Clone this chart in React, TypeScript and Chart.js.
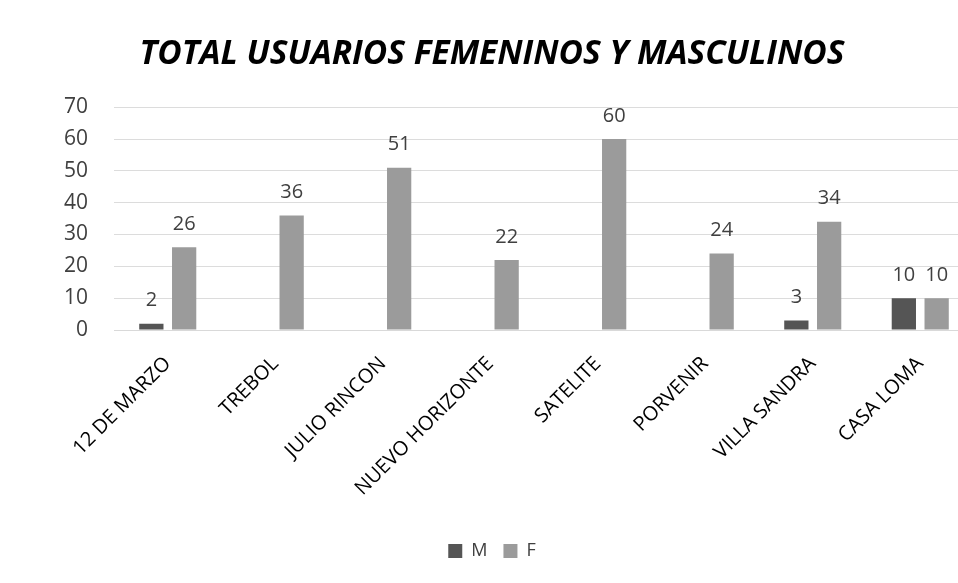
import React, { useEffect, useRef } from "react";
import { Chart, registerables } from "chart.js";

Chart.register(...registerables);

const categories = [
  "12 DE MARZO",
  "TREBOL",
  "JULIO RINCON",
  "NUEVO HORIZONTE",
  "SATELITE",
  "PORVENIR",
  "VILLA SANDRA",
  "CASA LOMA",
];
const valuesM: (number | null)[] = [2, null, null, null, null, null, 3, 10];
const valuesF: (number | null)[] = [26, 36, 51, 22, 60, 24, 34, 10];
const titleText = "TOTAL USUARIOS FEMENINOS Y MASCULINOS";

const FONT = "'Open Sans', 'Liberation Sans', sans-serif";

const labelPlugin = {
  id: "barLabels",
  afterDatasetsDraw(chart: any) {
    const ctx = chart.ctx;
    ctx.save();
    ctx.font = `20px ${FONT}`;
    ctx.fillStyle = "#404040";
    ctx.textAlign = "center";
    ctx.textBaseline = "middle";
    chart.data.datasets.forEach((ds: any, i: number) => {
      const meta = chart.getDatasetMeta(i);
      meta.data.forEach((el: any, j: number) => {
        const v = ds.data[j];
        if (v === null || v === undefined) return;
        ctx.fillText(String(v), el.x, el.y - 23);
      });
    });
    ctx.restore();
  },
};

export default function App() {
  const ref = useRef<HTMLCanvasElement | null>(null);
  useEffect(() => {
    document.body.style.overflow = "hidden";
    const chart = new Chart(ref.current!, {
      type: "bar",
      data: {
        labels: categories,
        datasets: [
          {
            label: "M",
            data: valuesM,
            backgroundColor: "#555555",
            barPercentage: 0.74,
            categoryPercentage: 0.61,
          },
          {
            label: "F",
            data: valuesF,
            backgroundColor: "#9b9b9b",
            barPercentage: 0.74,
            categoryPercentage: 0.61,
          },
        ],
      },
      options: {
        animation: false,
        responsive: false,
        maintainAspectRatio: false,
        layout: { padding: { left: 10, right: 2, top: 0, bottom: 13 } },
        plugins: {
          title: {
            display: true,
            text: titleText,
            color: "#000000",
            font: { family: FONT, size: 33.5, weight: "bold", style: "italic" },
            padding: { top: 34, bottom: 33 },
          },
          legend: {
            position: "bottom",
            labels: {
              color: "#404040",
              font: { family: FONT, size: 18 },
              boxWidth: 14,
              boxHeight: 14,
              padding: 16,
            },
          },
          tooltip: { enabled: false },
        },
        scales: {
          x: {
            grid: { display: false, drawTicks: false },
            border: { display: true, color: "#d9d9d9" },
            ticks: {
              color: "#000000",
              font: { family: FONT, size: 20 },
              maxRotation: 45,
              minRotation: 45,
              padding: 22,
              autoSkip: false,
            },
            afterFit: (scale: any) => {
              scale.paddingLeft = 0;
              scale.paddingRight = 0;
              scale.height = 196;
            },
          },
          y: {
            min: 0,
            max: 70,
            ticks: {
              stepSize: 10,
              color: "#404040",
              font: { family: FONT, size: 21 },
              padding: 26,
            },
            grid: { color: "#dcdcdc", drawTicks: false },
            border: { display: false },
            afterFit: (scale: any) => {
              scale.width = 104;
            },
          },
        },
      },
      plugins: [labelPlugin],
    });
    return () => chart.destroy();
  }, []);
  return (
    <div style={{ position: "fixed", left: 0, top: 0, width: 976, height: 583, background: "#ffffff" }}>
      <canvas ref={ref} width={976} height={583} style={{ width: 976, height: 583 }} />
    </div>
  );
}
